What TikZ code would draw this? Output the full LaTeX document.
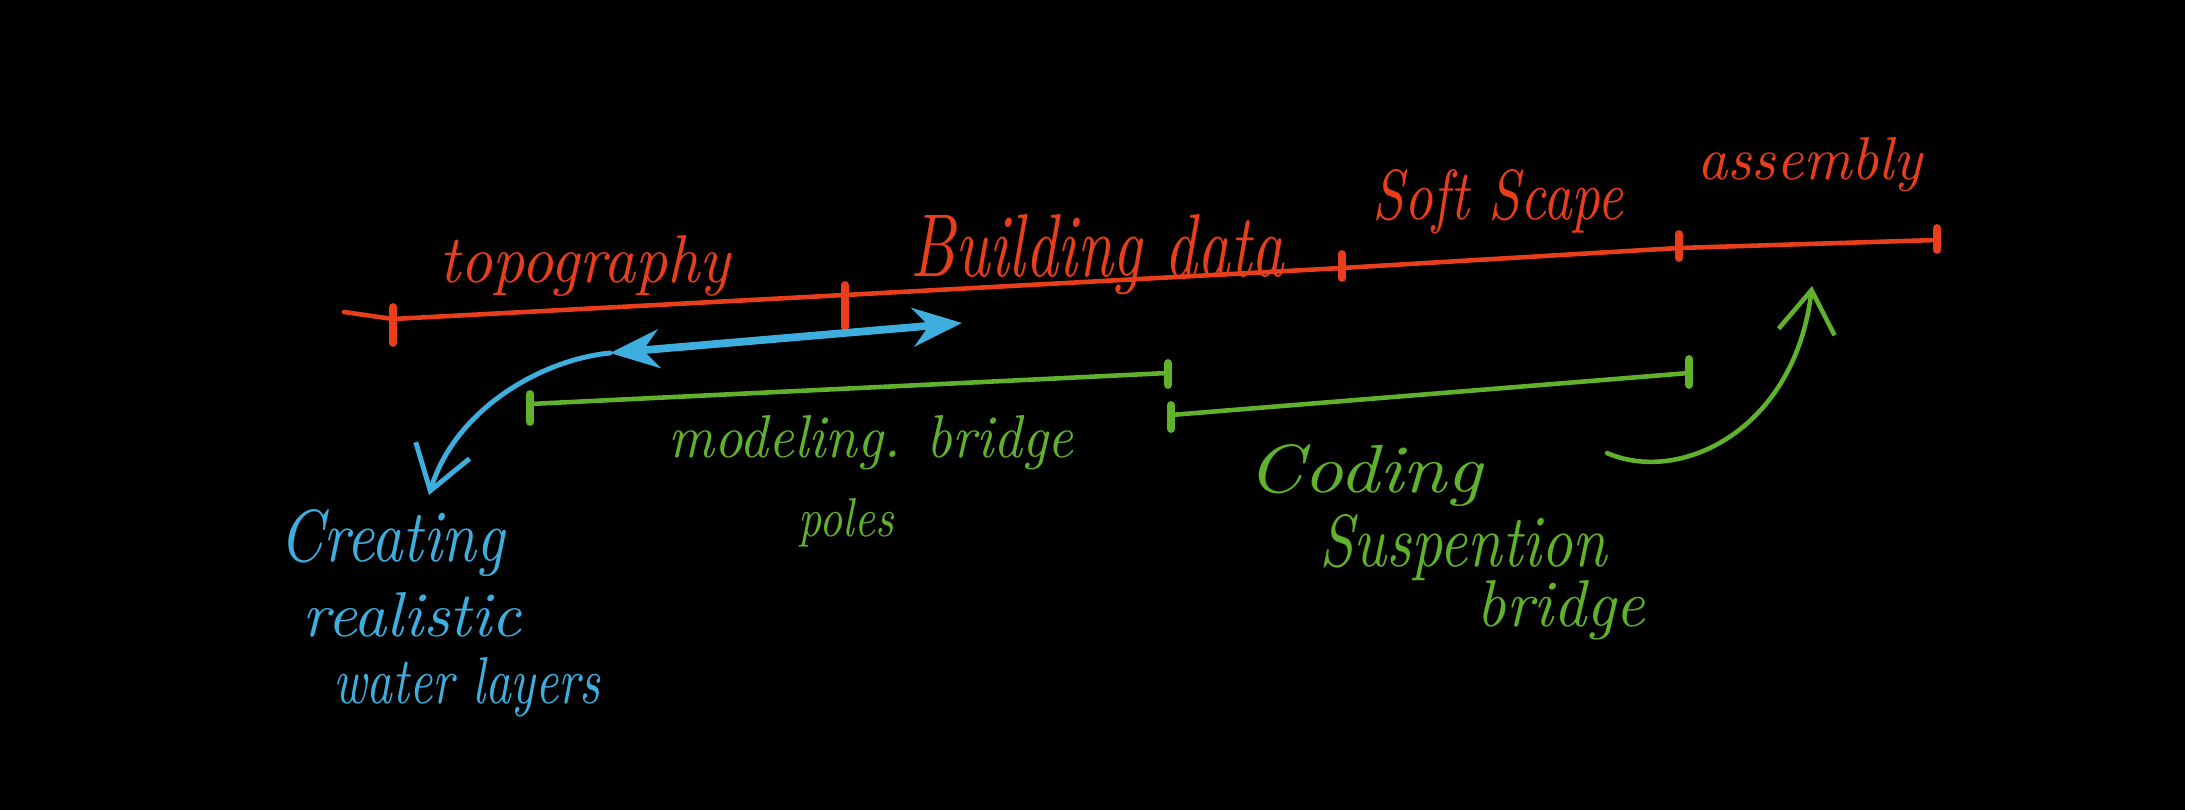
\documentclass[tikz,border=0pt]{standalone}
\usepackage{graphicx}
\usetikzlibrary{arrows.meta}
\definecolor{chalkred}{RGB}{232,62,28}
\definecolor{chalkblue}{RGB}{62,174,222}
\definecolor{chalkgreen}{RGB}{96,178,44}
\newcommand\fitwh[3]{\resizebox{#1}{#2}{\itshape #3}}
\begin{document}
\begin{tikzpicture}[x=0.01cm,y=-0.01cm,
  redline/.style={chalkred,line width=1.3pt,line cap=round},
  redtick/.style={chalkred,line width=2.2pt,line cap=round},
  greenline/.style={chalkgreen,line width=1.3pt,line cap=round},
  greentick/.style={chalkgreen,line width=2.2pt,line cap=round},
  blueline/.style={chalkblue,line width=1.4pt,line cap=round},
  redtxt/.style={text=chalkred,inner sep=0pt,anchor=base},
  bluetxt/.style={text=chalkblue,inner sep=0pt,anchor=base},
  greentxt/.style={text=chalkgreen,inner sep=0pt,anchor=base}]
\fill[black] (0,0) rectangle (2185,810);
\useasboundingbox (0,0) rectangle (2185,810);

% red timeline
\coordinate (r0) at (344,312);
\coordinate (r1) at (393,319);
\coordinate (r2) at (845,295);
\coordinate (r3) at (1342,268);
\coordinate (r4) at (1679,248);
\coordinate (r5) at (1937,240);
\draw[redline] (r0) -- (r1) -- (r2) -- (r3) -- (r4) -- (r5);
\draw[redtick] ([shift={(0,-12)}]r1) -- ([shift={(0,24)}]r1);
\draw[redtick] ([shift={(0,-10)}]r2) -- ([shift={(0,32)}]r2);
\draw[redtick] ([shift={(0,-14)}]r3) -- ([shift={(0,10)}]r3);
\draw[redtick] ([shift={(0,-14)}]r4) -- ([shift={(0,10)}]r4);
\draw[redtick] ([shift={(0,-12)}]r5) -- ([shift={(0,10)}]r5);

\node[redtxt] (topo) at (585,283) {\fitwh{2.90cm}{0.47cm}{topography}};
\node[redtxt] (build) at (1097,277) {\fitwh{3.73cm}{0.62cm}{Building data}};
\node[redtxt] (soft) at (1498,220) {\fitwh{2.50cm}{0.50cm}{Soft Scape}};
\node[redtxt] (assem) at (1810,180) {\fitwh{2.25cm}{0.42cm}{assembly}};

% blue
\coordinate (b1) at (610,353);
\coordinate (b2) at (962,323);
\coordinate (bw) at (429,495);
\draw[blueline,line width=2.2pt,{Stealth[length=14pt,width=11pt]}-{Stealth[length=14pt,width=11pt]}] (b1) -- (b2);
\draw[blueline,-{Straight Barb[length=12pt,width=16pt]}] (b1) .. controls (540,360) and (455,410) .. (bw);
\node[bluetxt] (creat) at (392,562) {\fitwh{2.25cm}{0.52cm}{Creating}};
\node[bluetxt] (real) at (412,637) {\fitwh{2.18cm}{0.44cm}{realistic}};
\node[bluetxt] (water) at (467,703) {\fitwh{2.67cm}{0.46cm}{water layers}};

% green spans
\coordinate (g1) at (530,404);
\coordinate (g2) at (1168,373);
\coordinate (g3) at (1171,415);
\coordinate (g4) at (1689,373);
\draw[greenline] (g1) -- (g2);
\draw[greentick] ([shift={(0,-10)}]g1) -- ([shift={(0,18)}]g1);
\draw[greentick] ([shift={(0,-10)}]g2) -- ([shift={(0,12)}]g2);
\draw[greenline] (g3) -- (g4);
\draw[greentick] ([shift={(0,-10)}]g3) -- ([shift={(0,14)}]g3);
\draw[greentick] ([shift={(0,-14)}]g4) -- ([shift={(0,12)}]g4);

\node[greentxt] (model) at (871,458) {\fitwh{4.05cm}{0.42cm}{modeling. bridge}};
\node[greentxt] (poles) at (846,537) {\fitwh{0.95cm}{0.38cm}{poles}};
\node[greentxt] (coding) at (1365,493) {\fitwh{2.35cm}{0.48cm}{Coding}};
\node[greentxt] (susp) at (1463,567) {\fitwh{2.87cm}{0.52cm}{Suspention}};
\node[greentxt] (bridge) at (1561,627) {\fitwh{1.68cm}{0.46cm}{bridge}};

% green curved arrow
\coordinate (gc0) at (1607,453);
\coordinate (gc1) at (1812,286);
\draw[greenline,-{Straight Barb[length=12pt,width=16pt]}] (gc0) .. controls (1680,485) and (1795,430) .. (gc1);
\end{tikzpicture}
\end{document}
